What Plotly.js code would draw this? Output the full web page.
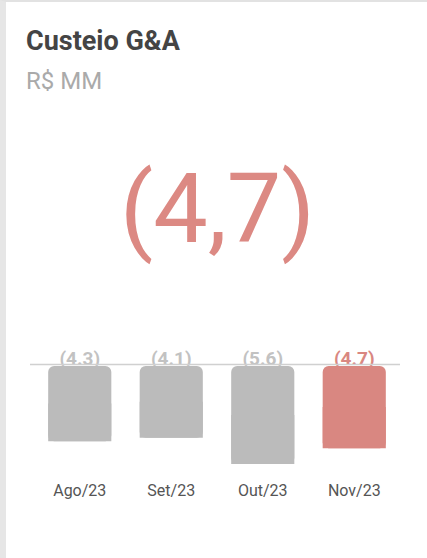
<!DOCTYPE html>
<html>
<head>
<meta charset="utf-8">
<script src="https://cdn.plot.ly/plotly-3.0.1.min.js"></script>
<style>
  html, body { margin: 0; padding: 0; background: #fff; }
  #wrap { width: 421px; height: 556px; border-left: 6px solid #e6e6e6; border-top: 2px solid #e2e2e2; }
  #chart { width: 421px; height: 556px; }
</style>
</head>
<body>
<div id="wrap"><div id="chart"></div></div>
<script>
const title = 'Custeio G&A';
const subtitle = 'R$ MM';
const categories = ['Ago/23', 'Set/23', 'Out/23', 'Nov/23'];
const values = [-4.3, -4.1, -5.6, -4.7];
const labels = ['(4.3)', '(4.1)', '(5.6)', '(4.7)'];
const headline = '(4,7)';

const GRAY = '#bbbbbb', RED = '#d98781';
const barColors = categories.map((c, i) => i === categories.length - 1 ? RED : GRAY);
const labelColors = categories.map((c, i) => i === categories.length - 1 ? '#d98781' : '#c2c2c2');

const yr = [-5.943, 2.057];
const textShift = 0.23; // moves the value labels down a few pixels
const yrText = [yr[0] + textShift, yr[1] + textShift];

const traces = [
  {
    type: 'scatter', mode: 'text', x: categories, y: values.map(() => 0),
    text: labels, textposition: 'top center',
    textfont: { family: 'Roboto', size: 19, color: labelColors, weight: 700 },
    cliponaxis: false, hoverinfo: 'skip', xaxis: 'x', yaxis: 'y'
  },
  {
    // full bar, rounded corners
    type: 'bar', x: categories, y: values.map(v => -v), base: values,
    marker: { color: barColors, cornerradius: 6, line: { width: 0 } },
    hoverinfo: 'skip', xaxis: 'x', yaxis: 'y2'
  },
  {
    // lower half, square corners (keeps the bottom of each bar square)
    type: 'bar', x: categories, y: values.map(v => -v / 2), base: values,
    marker: { color: barColors, line: { width: 0 } },
    hoverinfo: 'skip', xaxis: 'x', yaxis: 'y2'
  }
];

const layout = {
  width: 421, height: 556,
  margin: { l: 28, r: 27, t: 328, b: 88 },
  paper_bgcolor: '#ffffff', plot_bgcolor: '#ffffff',
  showlegend: false,
  bargap: 0.31,
  barmode: 'overlay',
  title: {
    text: '<b>' + title + '</b>',
    x: 20 / 421, xref: 'container', xanchor: 'left',
    y: 1 - 39 / 556, yref: 'container', yanchor: 'middle',
    font: { family: 'Roboto', size: 27, color: '#444444' }
  },
  xaxis: {
    type: 'category', range: [-0.5, 3.5], showgrid: false, zeroline: false, showline: false,
    ticks: '', ticklabelstandoff: 9,
    tickfont: { family: 'Roboto', size: 16, color: '#555555' }, fixedrange: true
  },
  yaxis: { range: yrText, visible: false, fixedrange: true },
  yaxis2: { range: yr, visible: false, overlaying: 'y', fixedrange: true },
  shapes: [
    { type: 'line', xref: 'paper', yref: 'y2', x0: -4 / 366, x1: 1, y0: 0.08, y1: 0.08, layer: 'above',
      line: { color: '#d0d0d0', width: 1.5 } }
  ],
  annotations: [
    { text: subtitle, xref: 'paper', yref: 'paper', x: -10 / 366, y: (468 - 78.5) / 140,
      xanchor: 'left', yanchor: 'middle', showarrow: false,
      font: { family: 'Roboto', size: 24, color: '#aaaaaa' } },
    { text: headline, xref: 'paper', yref: 'paper', x: 0.5, y: (468 - 207) / 140,
      xanchor: 'center', yanchor: 'middle', showarrow: false,
      font: { family: 'Roboto', size: 97, color: '#dc8983' } }
  ]
};

Plotly.newPlot('chart', traces, layout, { displayModeBar: false, staticPlot: true });
</script>
</body>
</html>
